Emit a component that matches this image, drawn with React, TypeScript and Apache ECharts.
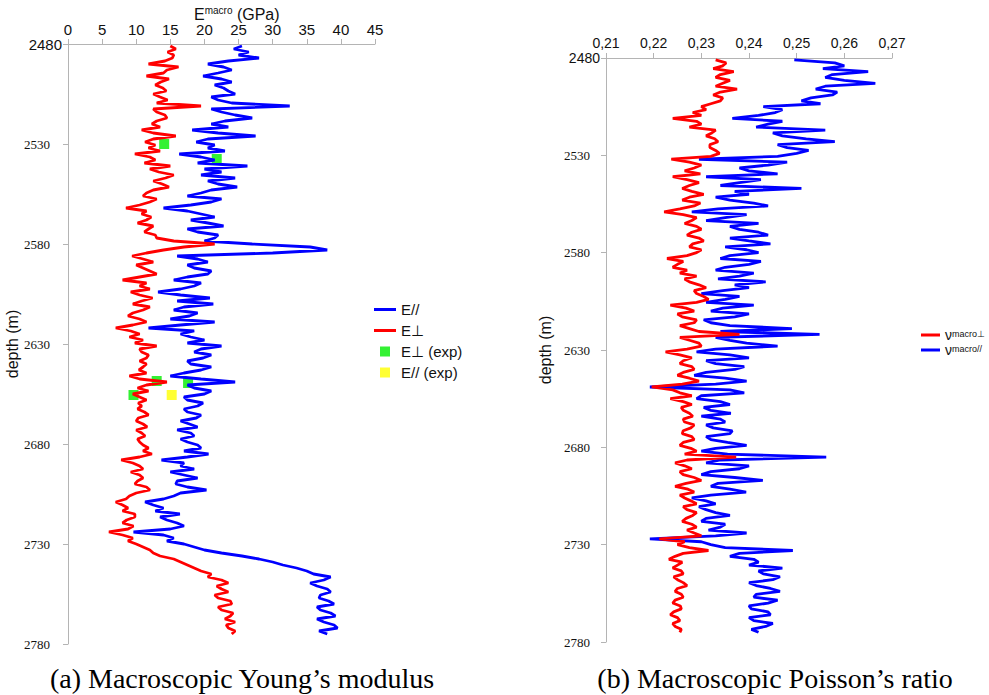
import React, { useEffect, useRef } from "react";
import * as echarts from "echarts";

// depth grid (m), main samples every 3 m
const depths = [
  2481, 2484, 2487, 2490, 2493, 2496, 2499, 2502, 2505, 2508,
  2511, 2514, 2517, 2520, 2523, 2526, 2529, 2532, 2535, 2538,
  2541, 2544, 2547, 2550, 2553, 2556, 2559, 2562, 2565, 2568,
  2571, 2574, 2577, 2580, 2583, 2586, 2589, 2592, 2595, 2598,
  2601, 2604, 2607, 2610, 2613, 2616, 2619, 2622, 2625, 2628,
  2631, 2634, 2637, 2640, 2643, 2646, 2649, 2652, 2655, 2658,
  2661, 2664, 2667, 2670, 2673, 2676, 2679, 2682, 2685, 2688,
  2691, 2694, 2697, 2700, 2703, 2706, 2709, 2712, 2715, 2718,
  2721, 2724, 2727, 2730, 2733, 2736, 2739, 2742, 2745, 2748,
  2751, 2754, 2757, 2760, 2763, 2766, 2769, 2772, 2775,
];
// in-between samples sit 1.5 m below each main sample
const midOffset = 1.5;

// E// (GPa)
const eParallel = [
  25.5, 26.5, 28.0, 20.5, 24.0, 19.8, 24.0, 22.8, 24.5, 22.0,
  32.5, 22.5, 27.0, 21.0, 18.2, 27.5, 18.8, 20.5, 16.3, 21.5,
  26.3, 22.5, 24.5, 22.0, 21.0, 17.5, 21.0, 14.0, 19.5, 18.0,
  22.8, 19.0, 21.5, 27.0, 38.0, 16.0, 20.5, 18.5, 20.5, 15.5,
  18.5, 13.2, 20.8, 21.3, 15.5, 17.8, 21.5, 11.8, 16.5, 20.0,
  22.5, 18.5, 19.8, 18.0, 19.5, 15.0, 24.5, 18.5, 20.0, 17.5,
  19.0, 17.5, 18.8, 17.8, 16.0, 18.5, 17.5, 19.5, 20.6, 13.7,
  16.5, 15.0, 19.0, 15.8, 20.3, 15.5, 11.3, 14.0, 16.4, 14.5,
  17.0, 9.6, 15.5, 17.0, 20.0, 25.5, 30.0, 33.5, 36.0, 37.5,
  36.5, 38.5, 36.8, 39.0, 37.0, 39.2, 37.5, 39.5, 38.0,
];
const eParallelMid = [
  24.3, 25.0, 23.5, 22.8, 22.0, 22.5, 21.5, 23.5, 21.0, 24.0,
  21.0, 24.5, 23.0, 23.5, 22.0, 20.5, 21.5, 23.0, 19.5, 19.0,
  20.0, 19.5, 20.5, 24.8, 19.5, 22.5, 18.0, 17.5, 21.5, 20.5,
  17.5, 22.0, 20.0, 35.5, 30.0, 19.0, 17.5, 21.0, 17.5, 19.5,
  16.5, 16.5, 16.0, 17.0, 19.0, 15.0, 16.5, 18.5, 18.0, 17.5,
  19.5, 21.0, 17.5, 21.0, 17.0, 19.5, 17.5, 21.0, 17.0, 19.8,
  17.0, 19.5, 16.5, 19.0, 18.0, 16.5, 19.0, 17.0, 17.5, 17.0,
  18.5, 17.0, 16.0, 17.5, 16.5, 14.0, 12.5, 12.8, 13.5, 16.0,
  15.0, 14.0, 14.5, 18.5, 22.5, 28.0, 31.5, 35.0, 38.5, 35.5,
  38.0, 37.0, 38.2, 36.5, 38.5, 36.5, 39.0, 36.8,
];

// E⊥ (GPa)
const ePerp = [
  15.0, 14.6, 15.3, 11.8, 14.5, 11.5, 13.6, 13.9, 12.5, 14.6,
  19.5, 13.0, 14.5, 12.3, 10.8, 15.8, 11.3, 11.8, 9.8, 12.8,
  15.0, 13.3, 14.3, 13.8, 12.5, 11.0, 12.0, 8.5, 10.8, 11.5,
  12.5, 11.2, 13.0, 21.5, 14.0, 9.4, 12.5, 11.0, 13.0, 8.0,
  10.5, 9.2, 12.4, 9.5, 11.0, 8.8, 11.5, 7.0, 10.5, 11.0,
  13.0, 10.8, 11.5, 11.5, 10.4, 9.0, 14.5, 10.2, 9.5, 11.5,
  10.8, 11.2, 10.3, 11.0, 10.0, 11.3, 10.5, 11.8, 12.3, 7.8,
  10.5, 9.2, 11.0, 9.8, 12.0, 9.0, 7.0, 8.8, 9.8, 8.6,
  9.6, 6.0, 9.5, 10.0, 12.0, 13.5, 16.5, 18.5, 21.0, 22.5,
  21.8, 23.5, 22.0, 24.0, 22.5, 23.8, 24.5, 23.5, 24.0,
];
const ePerpMid = [
  15.8, 15.5, 14.2, 16.2, 14.0, 14.8, 12.8, 14.4, 13.5, 13.0,
  12.5, 14.2, 13.0, 13.5, 12.5, 12.5, 12.8, 13.5, 12.0, 11.2,
  12.0, 15.5, 12.5, 14.8, 11.5, 13.0, 10.5, 11.5, 12.2, 10.2,
  11.8, 12.8, 15.5, 17.0, 11.5, 11.0, 10.0, 12.0, 10.5, 11.5,
  12.0, 10.5, 10.8, 12.0, 9.5, 10.5, 9.5, 9.2, 9.0, 9.8,
  10.5, 11.8, 10.5, 11.0, 11.5, 10.5, 11.5, 11.8, 10.5, 10.3,
  10.2, 11.8, 10.0, 11.6, 10.8, 10.2, 11.0, 11.0, 10.5, 9.5,
  11.0, 10.5, 10.2, 11.5, 10.0, 8.5, 8.0, 8.0, 9.8, 8.0,
  8.8, 8.0, 8.8, 11.0, 12.5, 15.5, 17.5, 19.5, 20.5, 23.5,
  22.5, 21.5, 23.8, 22.0, 24.2, 23.0, 23.2, 24.5,
];

// ν macro ⊥
const nuPerp = [
  0.2330, 0.2345, 0.2368, 0.2330, 0.2345, 0.2375, 0.2325, 0.2340, 0.2300, 0.2282,
  0.2240, 0.2300, 0.2330, 0.2310, 0.2335, 0.2318, 0.2338, 0.2237, 0.2300, 0.2265,
  0.2240, 0.2295, 0.2260, 0.2305, 0.2260, 0.2285, 0.2222, 0.2290, 0.2265, 0.2300,
  0.2270, 0.2305, 0.2275, 0.2290, 0.2228, 0.2250, 0.2270, 0.2290, 0.2275, 0.2310,
  0.2290, 0.2315, 0.2235, 0.2285, 0.2260, 0.2285, 0.2275, 0.2380, 0.2275, 0.2300,
  0.2225, 0.2280, 0.2255, 0.2285, 0.2250, 0.2295, 0.2196, 0.2255, 0.2235, 0.2280,
  0.2262, 0.2282, 0.2265, 0.2278, 0.2260, 0.2285, 0.2255, 0.2290, 0.2373, 0.2245,
  0.2280, 0.2262, 0.2300, 0.2245, 0.2285, 0.2265, 0.2290, 0.2270, 0.2282, 0.2260,
  0.2290, 0.2285, 0.2212, 0.2250, 0.2315, 0.2245, 0.2260, 0.2240, 0.2262, 0.2250,
  0.2270, 0.2245, 0.2262, 0.2240, 0.2258, 0.2235, 0.2255, 0.2245, 0.2255,
];
const nuPerpMid = [
  0.2352, 0.2325, 0.2340, 0.2360, 0.2330, 0.2340, 0.2345, 0.2320, 0.2310, 0.2300,
  0.2290, 0.2275, 0.2322, 0.2328, 0.2318, 0.2330, 0.2320, 0.2275, 0.2285, 0.2298,
  0.2270, 0.2275, 0.2280, 0.2275, 0.2298, 0.2255, 0.2262, 0.2280, 0.2290, 0.2280,
  0.2295, 0.2282, 0.2300, 0.2270, 0.2262, 0.2240, 0.2255, 0.2265, 0.2295, 0.2285,
  0.2305, 0.2290, 0.2268, 0.2250, 0.2290, 0.2255, 0.2295, 0.2255, 0.2295, 0.2270,
  0.2255, 0.2262, 0.2280, 0.2262, 0.2275, 0.2260, 0.2240, 0.2280, 0.2262, 0.2258,
  0.2275, 0.2262, 0.2285, 0.2262, 0.2280, 0.2262, 0.2278, 0.2265, 0.2270, 0.2265,
  0.2255, 0.2285, 0.2268, 0.2272, 0.2255, 0.2278, 0.2262, 0.2290, 0.2268, 0.2280,
  0.2270, 0.2300, 0.2265, 0.2275, 0.2262, 0.2232, 0.2250, 0.2258, 0.2242, 0.2262,
  0.2250, 0.2258, 0.2245, 0.2256, 0.2242, 0.2250, 0.2240, 0.2258,
];

// ν macro //
const nuParallel = [
  0.2495, 0.2600, 0.2650, 0.2560, 0.2665, 0.2540, 0.2575, 0.2510, 0.2430, 0.2455,
  0.2365, 0.2440, 0.2560, 0.2470, 0.2580, 0.2480, 0.2500, 0.2295, 0.2440, 0.2400,
  0.2310, 0.2380, 0.2510, 0.2400, 0.2360, 0.2440, 0.2280, 0.2350, 0.2420, 0.2380,
  0.2440, 0.2400, 0.2350, 0.2420, 0.2340, 0.2400, 0.2330, 0.2380, 0.2435, 0.2400,
  0.2300, 0.2350, 0.2410, 0.2320, 0.2370, 0.2320, 0.2490, 0.2548, 0.2360, 0.2460,
  0.2290, 0.2400, 0.2330, 0.2370, 0.2285, 0.2395, 0.2192, 0.2390, 0.2290, 0.2360,
  0.2320, 0.2300, 0.2350, 0.2325, 0.2360, 0.2320, 0.2395, 0.2300, 0.2562, 0.2310,
  0.2380, 0.2300, 0.2429, 0.2320, 0.2394, 0.2280, 0.2330, 0.2310, 0.2360, 0.2300,
  0.2340, 0.2395, 0.2192, 0.2320, 0.2492, 0.2360, 0.2420, 0.2470, 0.2430, 0.2450,
  0.2415, 0.2465, 0.2410, 0.2440, 0.2405, 0.2445, 0.2410, 0.2435, 0.2420,
];
const nuParallelMid = [
  0.2580, 0.2555, 0.2575, 0.2600, 0.2560, 0.2585, 0.2530, 0.2550, 0.2470, 0.2420,
  0.2470, 0.2415, 0.2450, 0.2520, 0.2460, 0.2525, 0.2460, 0.2480, 0.2380, 0.2460,
  0.2425, 0.2340, 0.2370, 0.2330, 0.2410, 0.2335, 0.2395, 0.2310, 0.2360, 0.2420,
  0.2360, 0.2445, 0.2395, 0.2360, 0.2425, 0.2350, 0.2410, 0.2335, 0.2370, 0.2345,
  0.2380, 0.2310, 0.2345, 0.2400, 0.2305, 0.2360, 0.2340, 0.2330, 0.2395, 0.2330,
  0.2360, 0.2310, 0.2390, 0.2310, 0.2350, 0.2330, 0.2360, 0.2300, 0.2340, 0.2305,
  0.2362, 0.2340, 0.2310, 0.2365, 0.2310, 0.2355, 0.2330, 0.2355, 0.2340, 0.2400,
  0.2320, 0.2370, 0.2335, 0.2360, 0.2320, 0.2310, 0.2295, 0.2330, 0.2310, 0.2350,
  0.2315, 0.2330, 0.2300, 0.2350, 0.2380, 0.2410, 0.2400, 0.2420, 0.2465, 0.2400,
  0.2445, 0.2415, 0.2460, 0.2400, 0.2440, 0.2400, 0.2450, 0.2405,
];

// experimental points
const ePerpExpDepth = [2530, 2537.5, 2648.5, 2649.5, 2655.5];
const ePerpExpValue = [14.1, 21.8, 13.0, 17.6, 9.6];
const eParExpDepth = [2655.5];
const eParExpValue = [15.2];

const SANS = "Liberation Sans";
const AXIS_GREY = "#b4b4b4";
const LINE_ICON_L = "path://M0,0h22v3h-22z";
const LINE_ICON_R = "path://M0,0h19v3h-19z";
const SQUARE_ICON = "path://M0,0h10v10h-10z";

const pairs = (xs: number[], ys: number[]) => xs.map((x, i) => [x, ys[i]]);

// merge the main and in-between samples in depth order
const logPairs = (main: number[], mid: number[]) => {
  const out: number[][] = [];
  main.forEach((v, i) => {
    out.push([v, depths[i]]);
    if (i < mid.length) out.push([mid[i], depths[i] + midOffset]);
  });
  return out;
};

export default function App() {
  const ref = useRef<HTMLDivElement>(null);
  useEffect(() => {
    if (!ref.current) return;
    const chart = echarts.init(ref.current, undefined, { renderer: "svg" });

    const depthAxis = (grid: number, gap: number, bigSize: number, padR: number) => ({
      gridIndex: grid,
      type: "value",
      inverse: true,
      min: 2480,
      max: 2780,
      interval: 50,
      name: "depth (m)",
      nameLocation: "middle",
      nameGap: gap,
      nameRotate: 90,
      nameTextStyle: { fontSize: 16, color: "#111", fontFamily: SANS },
      axisLine: { show: true, lineStyle: { color: AXIS_GREY, width: 1 } },
      axisTick: { show: true, length: 5, lineStyle: { color: AXIS_GREY } },
      splitLine: { show: false },
      axisLabel: {
        margin: 6,
        color: "#111",
        formatter: (v: number) => (v === 2480 ? `{big|${v}}` : `{small|${v}}`),
        rich: {
          big: { fontSize: bigSize, fontFamily: SANS, color: "#111" },
          small: {
            fontSize: 13,
            fontFamily: "Liberation Sans Narrow",
            color: "#111",
            padding: [0, padR, 0, 0],
          },
        },
      },
    });

    const lineSeries = (name: string, axis: number, color: string, data: number[][]) => ({
      type: "line",
      name,
      xAxisIndex: axis,
      yAxisIndex: axis,
      symbol: "none",
      color,
      lineStyle: { color, width: 2.8 },
      itemStyle: { color },
      data,
    });

    const option: any = {
      animation: false,
      backgroundColor: "#ffffff",
      grid: [
        { left: 68, top: 44, width: 307, height: 600 },
        { left: 606, top: 58, width: 286, height: 584 },
      ],
      xAxis: [
        {
          gridIndex: 0,
          type: "value",
          position: "top",
          min: 0,
          max: 45,
          interval: 5,
          axisLine: { show: true, lineStyle: { color: AXIS_GREY } },
          axisTick: { show: true, length: 5, lineStyle: { color: AXIS_GREY } },
          splitLine: { show: false },
          axisLabel: { fontSize: 15, color: "#111", fontFamily: SANS, margin: 7 },
        },
        {
          gridIndex: 1,
          type: "value",
          position: "top",
          min: 0.21,
          max: 0.27,
          interval: 0.01,
          axisLine: { show: true, lineStyle: { color: AXIS_GREY } },
          axisTick: { show: true, length: 5, lineStyle: { color: AXIS_GREY } },
          splitLine: { show: false },
          axisLabel: {
            fontSize: 14,
            color: "#111",
            fontFamily: SANS,
            margin: 8,
            formatter: (v: number) => v.toFixed(2).replace(".", ","),
          },
        },
      ],
      yAxis: [depthAxis(0, 43, 15, 12), depthAxis(1, 53, 14, 10)],
      legend: [
        {
          orient: "vertical",
          left: 369,
          top: 297,
          itemWidth: 22,
          itemHeight: 10,
          itemGap: 6,
          data: [
            { name: "E//", icon: LINE_ICON_L },
            { name: "E⊥", icon: LINE_ICON_L },
            { name: "E⊥ (exp)", icon: SQUARE_ICON },
            { name: "E// (exp)", icon: SQUARE_ICON },
          ],
          textStyle: { fontSize: 15, color: "#111", fontFamily: SANS },
        },
        {
          orient: "vertical",
          left: 916,
          top: 323,
          itemWidth: 19,
          itemHeight: 8,
          itemGap: 1,
          data: [
            { name: "νmacro⊥", icon: LINE_ICON_R },
            { name: "νmacro//", icon: LINE_ICON_R },
          ],
          formatter: (name: string) =>
            name === "νmacro⊥" ? "{a|ν}{s|macro⊥}" : "{a|ν}{s|macro//}",
          textStyle: {
            color: "#111",
            fontFamily: SANS,
            rich: {
              a: { fontSize: 14, fontFamily: SANS, color: "#111", lineHeight: 12 },
              s: { fontSize: 9, fontFamily: SANS, color: "#111", verticalAlign: "top", lineHeight: 12 },
            },
          },
        },
      ],
      series: [
        {
          type: "scatter",
          name: "E⊥ (exp)",
          xAxisIndex: 0,
          yAxisIndex: 0,
          symbol: "rect",
          symbolSize: 10,
          color: "#00ee00",
          itemStyle: { color: "#00ee00" },
          data: pairs(ePerpExpValue, ePerpExpDepth),
        },
        {
          type: "scatter",
          name: "E// (exp)",
          xAxisIndex: 0,
          yAxisIndex: 0,
          symbol: "rect",
          symbolSize: 10,
          color: "#ffff00",
          itemStyle: { color: "#ffff00" },
          data: pairs(eParExpValue, eParExpDepth),
        },
        lineSeries("E//", 0, "#0000ff", logPairs(eParallel, eParallelMid)),
        lineSeries("E⊥", 0, "#ff0000", logPairs(ePerp, ePerpMid)),
        lineSeries("νmacro//", 1, "#0000ff", logPairs(nuParallel, nuParallelMid)),
        lineSeries("νmacro⊥", 1, "#ff0000", logPairs(nuPerp, nuPerpMid)),
      ],
      graphic: [
        {
          type: "text",
          x: 194,
          y: 5,
          style: {
            text: "{b|E}{s|macro}{b| (GPa)}",
            rich: {
              b: { fontSize: 16, fontFamily: SANS, fill: "#111", color: "#111", lineHeight: 18 },
              s: { fontSize: 10, fontFamily: SANS, fill: "#111", color: "#111", verticalAlign: "top", lineHeight: 18 },
            },
            fill: "#111",
          },
        },
        {
          type: "text",
          x: 242,
          y: 678,
          style: {
            text: "(a) Macroscopic Young’s modulus",
            fontSize: 28,
            fontFamily: "Liberation Serif",
            fill: "#000",
            align: "center",
            verticalAlign: "middle",
          },
        },
        {
          type: "text",
          x: 775,
          y: 678,
          style: {
            text: "(b) Macroscopic Poisson’s ratio",
            fontSize: 28,
            fontFamily: "Liberation Serif",
            fill: "#000",
            align: "center",
            verticalAlign: "middle",
          },
        },
      ],
    };

    chart.setOption(option);
    return () => chart.dispose();
  }, []);

  return (
    <div
      ref={ref}
      style={{ position: "fixed", left: 0, top: 0, width: 989, height: 695, background: "#fff" }}
    />
  );
}
